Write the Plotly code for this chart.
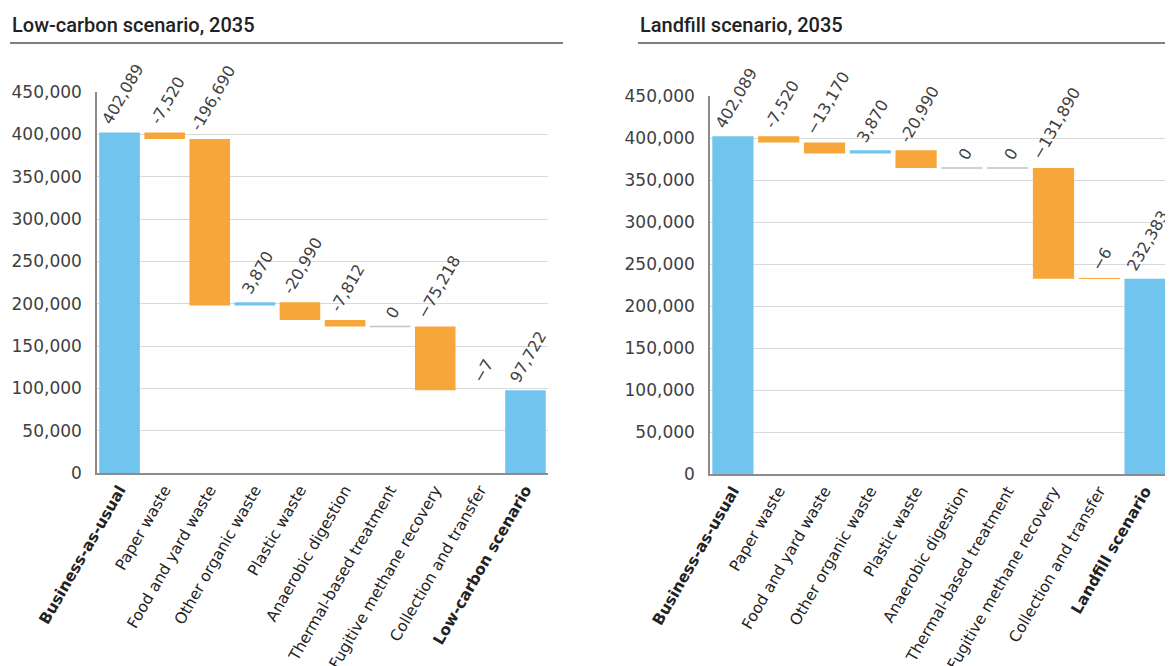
import numpy as np
import plotly.graph_objects as go

# ---------------- data ----------------
cats_low = ["Business-as-usual", "Paper waste", "Food and yard waste", "Other organic waste",
            "Plastic waste", "Anaerobic digestion", "Thermal-based treatment",
            "Fugitive methane recovery", "Collection and transfer", "Low-carbon scenario"]
vals_low = [402089, -7520, -196690, 3870, -20990, -7812, 0, -75218, -7, 97722]
labels_low = ["402,089", "-7,520", "-196,690", "3,870", "-20,990", "-7,812", "0",
              "\u221275,218", "\u22127", "97,722"]

cats_land = ["Business-as-usual", "Paper waste", "Food and yard waste", "Other organic waste",
             "Plastic waste", "Anaerobic digestion", "Thermal-based treatment",
             "Fugitive methane recovery", "Collection and transfer", "Landfill scenario"]
vals_land = [402089, -7520, -13170, 3870, -20990, 0, 0, -131890, -6, 232383]
labels_land = ["402,089", "-7,520", "\u221213,170", "3,870", "-20,990", "0", "0",
               "\u2212131,890", "\u22126", "232,383"]

titles = ["Low-carbon scenario, 2035", "Landfill scenario, 2035"]
ytick_vals = [0, 50000, 100000, 150000, 200000, 250000, 300000, 350000, 400000, 450000]

# ---------------- style ----------------
BLUE = "#71C4EE"
ORANGE = "#F7A63A"
GREY0 = "#BCC4CC"
FONT = "DejaVu Sans"
TXT = "#3F3F3F"
W, H, OFF = 1173, 666, 8  # page body margin offset


def px(x):
    return (x - OFF) / W


def py(y):
    return 1 - (y - OFF) / H


def waterfall_parts(vals):
    vals = np.array(vals, dtype=float)
    n = len(vals)
    base = np.zeros(n)
    height = np.zeros(n)
    colors = []
    lw = []
    running = 0.0
    for i, v in enumerate(vals):
        if i == 0 or i == n - 1:
            base[i] = 0
            height[i] = v
            running = v
            colors.append(BLUE)
        else:
            base[i] = running
            height[i] = v
            running += v
            colors.append(BLUE if v > 0 else (ORANGE if v < 0 else GREY0))
        lw.append(1.5 if v == 0 else 0)
    top = np.maximum(base, base + height)
    return base, height, colors, lw, top


fig = go.Figure()

panels = [
    dict(cats=cats_low, vals=vals_low, labels=labels_low, xa="x", ya="y",
         xdom=[px(97), px(548)], ydom=[py(473), py(92)]),
    dict(cats=cats_land, vals=vals_land, labels=labels_land, xa="x2", ya="y2",
         xdom=[px(710), px(1168)], ydom=[py(474), py(96)]),
]

annotations = []
for k, p in enumerate(panels):
    base, height, colors, lw, top = waterfall_parts(p["vals"])
    ticktext = [f"<b>{c}</b>" if i in (0, len(p["cats"]) - 1) else c
                for i, c in enumerate(p["cats"])]
    fig.add_trace(go.Bar(
        x=p["cats"], y=height, base=base, xaxis=p["xa"], yaxis=p["ya"],
        marker=dict(color=colors, line=dict(color=colors, width=lw)),
        showlegend=False, hoverinfo="skip",
    ))
    for c, t, lab in zip(p["cats"], top, p["labels"]):
        annotations.append(dict(
            x=c, y=t, xref=p["xa"], yref=p["ya"], text=lab, showarrow=False,
            textangle=-60, xanchor="center", yanchor="bottom", yshift=2, xshift=3,
            font=dict(family=FONT, size=16, color=TXT),
        ))
    suffix = "" if k == 0 else "2"
    fig.layout["xaxis" + suffix] = dict(
        domain=p["xdom"], anchor=p["ya"], type="category", automargin=False,
        tickmode="array", tickvals=p["cats"], ticktext=ticktext,
        tickangle=-60, tickfont=dict(family=FONT, size=15.5, color="#222222"),
        showline=True, linecolor="#8C8C8C", linewidth=1.5, showgrid=False,
        ticks="", range=[-0.5, len(p["cats"]) - 0.5],
    )
    fig.layout["yaxis" + suffix] = dict(
        domain=p["ydom"], anchor=p["xa"], range=[0, 450000], automargin=False,
        tickmode="array", tickvals=ytick_vals, tickformat=",",
        tickfont=dict(family=FONT, size=17, color=TXT),
        showline=True, linecolor="#8C8C8C", linewidth=1.5,
        showgrid=True, gridcolor="#D9D9D9", gridwidth=1, zeroline=False,
        ticks="", ticklabelstandoff=10,
    )

# titles and rules
for tx, title in zip([10, 638], titles):
    annotations.append(dict(x=px(tx), y=py(25), xref="paper", yref="paper",
                            text=title, showarrow=False, xanchor="left", yanchor="middle",
                            font=dict(family="Roboto", size=20, color="#222222", weight=500)))

shapes = [
    dict(type="line", xref="paper", yref="paper", x0=px(10), x1=px(563),
         y0=py(43), y1=py(43), line=dict(color="#7F7F7F", width=2)),
    dict(type="line", xref="paper", yref="paper", x0=px(638), x1=1.0,
         y0=py(43), y1=py(43), line=dict(color="#7F7F7F", width=2)),
]

fig.update_layout(
    template="none",
    width=W, height=H, margin=dict(l=0, r=0, t=0, b=0, autoexpand=False),
    paper_bgcolor="white", plot_bgcolor="white", bargap=0.1,
    annotations=annotations, shapes=shapes,
    font=dict(family=FONT, color=TXT),
)

fig.write_html("out.html")
